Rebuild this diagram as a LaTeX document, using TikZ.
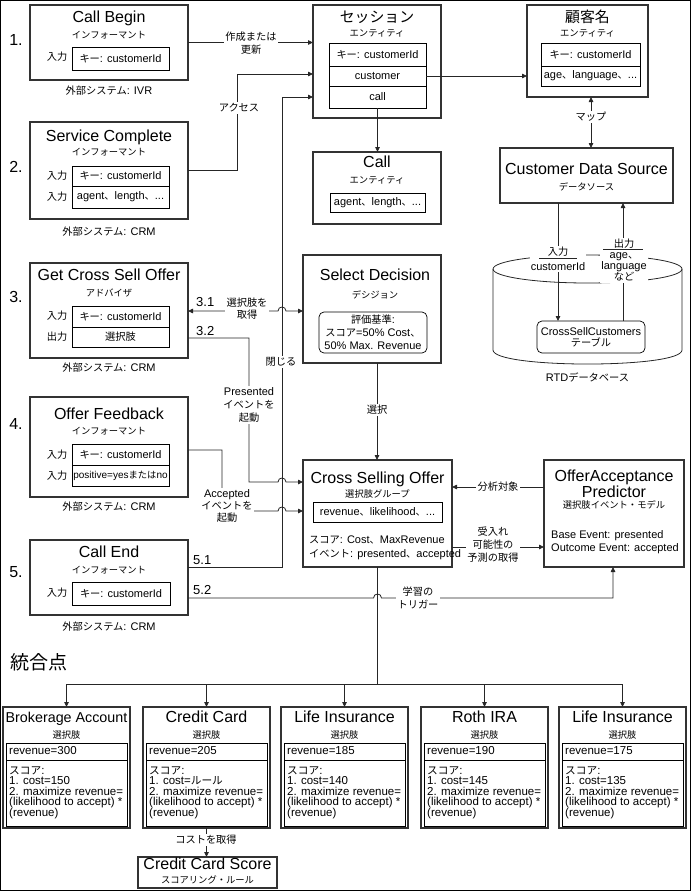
\documentclass[tikz,border=0pt]{standalone}
\usepackage{fontspec}
\setmainfont{Liberation Sans}
\newfontfamily\latinfont{Liberation Sans}
\newfontfamily\jpfont{Noto Sans CJK JP}[Scale=0.93]
\XeTeXinterchartokenstate=1
\newXeTeXintercharclass\JPcls
\makeatletter
\count@="3000
\loop\XeTeXcharclass\count@=\JPcls\advance\count@\@ne\ifnum\count@<"3100\repeat
\count@="4E00
\loop\XeTeXcharclass\count@=\JPcls\advance\count@\@ne\ifnum\count@<"A000\repeat
\count@="FF00
\loop\XeTeXcharclass\count@=\JPcls\advance\count@\@ne\ifnum\count@<"FFF0\repeat
\makeatother
\XeTeXinterchartoks 0 \JPcls={\jpfont}
\XeTeXinterchartoks 4095 \JPcls={\jpfont}
\XeTeXinterchartoks \JPcls 0={\latinfont}
\XeTeXinterchartoks \JPcls 4095={\latinfont}
\usetikzlibrary{arrows.meta}
\newcommand\fsT{\fontsize{16}{17}\selectfont}
\newcommand\fsS{\fontsize{10}{12}\selectfont}
\newcommand\fsB{\fontsize{11}{13}\selectfont}
\newcommand\fsM{\fontsize{13}{14}\selectfont}
\newcommand\fsO{\fontsize{11.5}{10.4}\selectfont\lineskiplimit=-20pt\relax}
\newcommand\optbox[5]{%
  \node[box, minimum width=127pt, minimum height=121pt] (#1) at (#2,707) {};
  \node[ttl] (#1T) at (#2+63.5,720) {#3};
  \node[sub] (#1S) at (#2+63.5,735) {選択肢};
  \node[fld, minimum width=121pt, minimum height=17pt] (#1R) at (#2+3,743) {};
  \node[inner sep=0pt, anchor=west, font=\fsO, text height=.8em, text depth=.2em] (#1Rt) at (#2+6,751.5) {#4};
  \node[fld, minimum width=121pt, minimum height=66pt] (#1C) at (#2+3,760) {};
  \node[inner sep=0pt, anchor=north west, align=left, font=\fsO] (#1Ct) at (#2+6,766.5) {スコア:\\1. cost=#5\\2. maximize revenue=\\(likelihood to accept) *\\(revenue)};
}
\begin{document}
\begin{tikzpicture}[x=1pt,y=-1pt,
 box/.style={draw=black!80, line width=1.3pt, fill=white, inner sep=0pt, outer sep=0pt, anchor=north west},
 fld/.style={draw=black, line width=.7pt, fill=white, inner sep=0pt, outer sep=0pt, anchor=north west, font=\fsB},
 ln/.style={draw=black!85, line width=.8pt},
 arr/.style={ln, -{Triangle[length=5pt,width=4.5pt]}},
 darr/.style={ln, {Triangle[length=5pt,width=4.5pt]}-{Triangle[length=5pt,width=4.5pt]}},
 ttl/.style={inner sep=0pt, font=\fsT, text height=.75em, text depth=.2em},
 sub/.style={inner sep=0pt, font=\fsS, text height=.8em, text depth=.2em},
 txt/.style={inner sep=0pt, font=\fsB, text height=.8em, text depth=.2em},
 lbl/.style={fill=white, inner sep=1.5pt, font=\fsB, align=center},
 sm/.style={inner sep=0pt, font=\fsM, anchor=south west},
]
\useasboundingbox (0,0) rectangle (691,891);
\draw[line width=1pt] (0.5,0.5) rectangle (690.5,890.5);

% ---------- Call Begin
\node[box, minimum width=158pt, minimum height=75pt] (cb) at (30,5) {};
\node[ttl] (cbT) at (109,20) {Call Begin};
\node[sub] (cbS) at (109,35) {インフォーマント};
\node[txt] (cbI) at (57,58) {入力};
\node[fld, minimum width=97pt, minimum height=23pt] (cbK) at (72,47) {キー: customerId};
\node[txt] (cbX) at (109,91) {外部システム: IVR};
\node[ttl] (n1) at (16,43) {1.};

% ---------- Session
\node[box, minimum width=128pt, minimum height=113pt] (ses) at (313,5) {};
\node[ttl] (sesT) at (377,20) {セッション};
\node[sub] (sesS) at (377,34) {エンティティ};
\node[fld, minimum width=97pt, minimum height=23pt] (sesK) at (329,43) {キー: customerId};
\node[fld, minimum width=97pt, minimum height=20pt] (sesC) at (329,66) {customer};
\node[fld, minimum width=97pt, minimum height=22pt] (sesL) at (329,86) {call};

% ---------- Customer
\node[box, minimum width=121pt, minimum height=92pt] (cust) at (527,5) {};
\node[ttl] (custT) at (587.5,20) {顧客名};
\node[sub] (custS) at (587.5,34) {エンティティ};
\node[fld, minimum width=99pt, minimum height=23pt] (custK) at (541,43) {キー: customerId};
\node[fld, minimum width=99pt, minimum height=20pt] (custA) at (541,66) {age、language、...};

% ---------- Call entity
\node[box, minimum width=128pt, minimum height=72pt] (call) at (313,152) {};
\node[ttl] (callT) at (377,165) {Call};
\node[sub] (callS) at (377,180) {エンティティ};
\node[fld, minimum width=95pt, minimum height=19pt] (callA) at (330,193) {agent、length、...};

% ---------- Customer Data Source
\node[box, minimum width=173pt, minimum height=55pt] (cds) at (500,148) {};
\node[ttl] (cdsT) at (586.5,172) {Customer Data Source};
\node[sub] (cdsS) at (586.5,187) {データソース};

% ---------- Service Complete
\node[box, minimum width=158pt, minimum height=97pt] (sc) at (30,122) {};
\node[ttl] (scT) at (109,139) {Service Complete};
\node[sub] (scS) at (109,152) {インフォーマント};
\node[txt] (scI1) at (57,176) {入力};
\node[txt] (scI2) at (57,197) {入力};
\node[fld, minimum width=97pt, minimum height=20pt] (scK) at (72,166) {キー: customerId};
\node[fld, minimum width=97pt, minimum height=22pt] (scA) at (72,186) {agent、length、...};
\node[txt] (scX) at (109,232) {外部システム: CRM};
\node[ttl] (n2) at (16,170) {2.};

% ---------- Get Cross Sell Offer
\node[box, minimum width=158pt, minimum height=95pt] (gcs) at (30,263) {};
\node[ttl] (gcsT) at (109,278) {Get Cross Sell Offer};
\node[sub] (gcsS) at (109,293) {アドバイザ};
\node[txt] (gcsI) at (57,316) {入力};
\node[txt] (gcsO) at (57,337) {出力};
\node[fld, minimum width=97pt, minimum height=21pt] (gcsK) at (72,306) {キー: customerId};
\node[fld, minimum width=97pt, minimum height=20pt] (gcsC) at (72,327) {選択肢};
\node[txt] (gcsX) at (109,368) {外部システム: CRM};
\node[ttl] (n3) at (16,300) {3.};

% ---------- Select Decision
\node[box, minimum width=138pt, minimum height=108pt] (sd) at (303,255) {};
\node[ttl] (sdT) at (375,278) {Select Decision};
\node[sub] (sdS) at (375,295) {デシジョン};
\node[fld, rounded corners=5pt, minimum width=108pt, minimum height=41pt, align=center] (sdC) at (319,312) {評価基準:\\スコア=50\% Cost、\\50\% Max. Revenue};

% ---------- Offer Feedback
\node[box, minimum width=158pt, minimum height=100pt] (of) at (30,397) {};
\node[ttl] (ofT) at (109,417) {Offer Feedback};
\node[sub] (ofS) at (109,431) {インフォーマント};
\node[txt] (ofI1) at (57,455) {入力};
\node[txt] (ofI2) at (57,476) {入力};
\node[fld, minimum width=97pt, minimum height=21pt] (ofK) at (72,444) {キー: customerId};
\node[fld, minimum width=97pt, minimum height=21pt, font=\fontsize{10}{12}\selectfont] (ofP) at (72,465) {positive=yesまたはno};
\node[txt] (ofX) at (109,507) {外部システム: CRM};
\node[ttl] (n4) at (16,427) {4.};

% ---------- Call End
\node[box, minimum width=158pt, minimum height=75pt] (ce) at (30,540) {};
\node[ttl] (ceT) at (109,555) {Call End};
\node[sub] (ceS) at (109,570) {インフォーマント};
\node[txt] (ceI) at (57,593) {入力};
\node[fld, minimum width=98pt, minimum height=23pt] (ceK) at (72,582) {キー: customerId};
\node[txt] (ceX) at (109,627) {外部システム: CRM};
\node[ttl] (n5) at (16,575) {5.};
\node[inner sep=0pt, font=\fontsize{20.5}{22}\selectfont] (integ) at (39,662) {統合点};

% ---------- Cross Selling Offer
\node[box, minimum width=149pt, minimum height=107pt] (cso) at (303,460) {};
\node[ttl] (csoT) at (377.5,481) {Cross Selling Offer};
\node[sub] (csoS) at (377.5,494) {選択肢グループ};
\node[fld, minimum width=129pt, minimum height=20pt] (csoA) at (313,502) {revenue、likelihood、...};
\node[txt, anchor=west] (csoL1) at (309,540) {スコア: Cost、MaxRevenue};
\node[txt, anchor=west] (csoL2) at (309,554) {イベント: presented、accepted};

% ---------- OfferAcceptance Predictor
\node[box, minimum width=140pt, minimum height=107pt] (oap) at (544,460) {};
\node[inner sep=0pt, font=\fontsize{16}{14}\selectfont, align=center] (oapT) at (614,483.5) {OfferAcceptance\\Predictor};
\node[sub] (oapS) at (614,505) {選択肢イベント・モデル};
\node[txt, anchor=west] (oapL1) at (551,535) {Base Event: presented};
\node[txt, anchor=west] (oapL2) at (551,548) {Outcome Event: accepted};

% ---------- RTD database
\draw[ln] (587.5,269) ellipse [x radius=94.5, y radius=14];
\draw[ln] (493,269) -- (493,350) .. controls (493,368.7) and (682,368.7) .. (682,350) -- (682,269);
\node[fld, rounded corners=5pt, minimum width=108pt, minimum height=32pt, align=center, font=\fontsize{11}{11}\selectfont] (tbl) at (537,321) {CrossSellCustomers\\テーブル};
\node[txt] (rtd) at (587.5,378) {RTDデータベース};

% ---------- option boxes
\optbox{bxA}{3}{\fontsize{14.3}{16}\selectfont Brokerage Account}{revenue=300}{150}
\optbox{bxB}{143}{Credit Card}{revenue=205}{ルール}
\optbox{bxC}{281}{Life Insurance}{revenue=185}{140}
\optbox{bxD}{421}{Roth IRA}{revenue=190}{145}
\optbox{bxE}{559}{Life Insurance}{revenue=175}{135}

\node[box, minimum width=139pt, minimum height=31pt] (ccs) at (138,857) {};
\node[ttl] (ccsT) at (207.5,867) {Credit Card Score};
\node[sub] (ccsS) at (207.5,880) {スコアリング・ルール};

% ---------- connectors
\draw[arr] (cb.east) -- (ses.west |- cb.east);
\draw[arr] (sc.east) -- (237,170.5) -- (237,74) -- (ses.west |- 0,74);
\draw[arr] (ce.east |- 0,567) -- (282,567) -- (282,97) -- (ses.west |- 0,97);
\draw[arr] (sesL.south) -- (sesL.south |- call.north);
\draw[arr] (sesC.east) -- (cust.west |- sesC.east);
\draw[ln, {Triangle[length=5pt,width=4.5pt]}-{Triangle[length=5pt,width=4.5pt]}] (cds.north -| 591,0) -- (cust.south -| 591,0);
\draw[arr] (cds.south -| 558,0) -- (tbl.north -| 558,0);
\draw[arr] (tbl.north -| 623,0) -- (cds.south -| 623,0);
\draw[darr] (gcs.east |- 0,311) -- (278,311) .. controls (278,305.7) and (286,305.7) .. (286,311) -- (sd.west |- 0,311);
\draw[arr] (gcs.east |- 0,338) -- (249,338) -- (249,482) -- (278,482) .. controls (278,476.7) and (286,476.7) .. (286,482) -- (cso.west |- 0,482);
\draw[arr] (of.east |- 0,450) -- (222,450) -- (222,511) -- (278,511) .. controls (278,505.7) and (286,505.7) .. (286,511) -- (cso.west |- 0,511);
\draw[arr] (sd.south -| 377,0) -- (cso.north -| 377,0);
\draw[arr] (oap.west |- 0,487) -- (cso.east |- 0,487);
\draw[arr] (cso.east |- 0,547) -- (oap.west |- 0,547);
\draw[arr] (ce.east |- 0,598) -- (373.5,598) .. controls (373.5,592.7) and (381.5,592.7) .. (381.5,598) -- (613,598) -- (oap.south -| 613,0);
\draw[ln] (cso.south) -- (cso.south |- 0,684) coordinate (bus);
\draw[arr] (bus) -| (bxA);
\draw[arr] (bus) -| (bxB);
\draw[arr] (bus) -| (bxC);
\draw[arr] (bus) -| (bxD);
\draw[arr] (bus) -| (bxE);
\draw[arr] (bxB.south) -- (bxB.south |- ccs.north);

% ---------- connector labels
\node[lbl, font=\fontsize{11}{13.5}\selectfont] (l1) at (251,43) {作成または\\更新};
\node[lbl] (l2) at (239,108) {アクセス};
\node[lbl] (l3) at (281,362) {閉じる};
\node[lbl, font=\fontsize{11}{12}\selectfont] (l4) at (247,309) {選択肢を\\取得};
\node[lbl] (l5) at (249,405) {Presented\\イベントを\\起動};
\node[lbl, font=\fontsize{11}{12}\selectfont] (l6) at (227,506) {Accepted\\イベントを\\起動};
\node[lbl] (l7) at (377,410) {選択};
\node[lbl] (l8) at (498,487) {分析対象};
\node[lbl] (l9) at (493,545) {受入れ\\可能性の\\予測の取得};
\node[lbl, font=\fontsize{11}{13.5}\selectfont] (l10) at (418,598) {学習の\\トリガー};
\node[lbl] (l11) at (591,117) {マップ};
\node[lbl] (l12) at (206,840) {コストを取得};
\node[lbl, inner sep=1pt, font=\fontsize{11}{15}\selectfont] (dbI) at (558,259) {入力\\customerId};
\draw[ln] (539,258.5) -- (577,258.5);
\node[lbl, inner sep=1pt, font=\fontsize{11}{11.3}\selectfont] (dbO) at (624,260) {出力\\age、\\language\\など};
\draw[ln] (603,249) -- (643,249);
\node[sm] (s31) at (196,307) {3.1};
\node[sm] (s32) at (196,336) {3.2};
\node[sm] (s51) at (193,565) {5.1};
\node[sm] (s52) at (193,595) {5.2};
\end{tikzpicture}
\end{document}
